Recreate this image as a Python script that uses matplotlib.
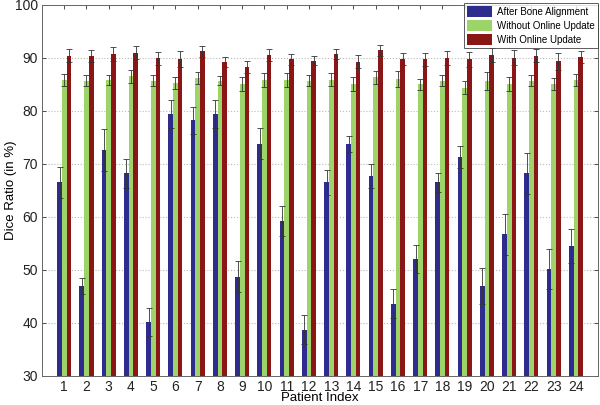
import matplotlib
matplotlib.use("Agg")
import matplotlib.pyplot as plt
import numpy as np

plt.rcParams['font.family'] = ['Liberation Sans', 'DejaVu Sans']

patients = list(range(1, 25))
series_names = ["After Bone Alignment", "Without Online Update", "With Online Update"]

after_bone = [66.5, 47.0, 72.6, 68.2, 40.2, 79.4, 78.2, 79.4, 48.7, 73.8, 59.2, 38.7,
              66.5, 73.8, 67.7, 43.6, 52.0, 66.5, 71.3, 46.9, 56.7, 68.2, 50.1, 54.5]
after_bone_err = [3.0, 1.5, 4.0, 2.7, 2.6, 2.7, 2.5, 2.7, 2.9, 2.9, 2.8, 2.7,
                  2.4, 1.5, 2.3, 2.7, 2.6, 1.8, 2.0, 3.4, 3.9, 3.8, 3.8, 3.3]
without_update = [85.8, 85.7, 85.8, 86.5, 85.7, 85.2, 86.2, 85.7, 85.0, 85.8, 85.8, 85.7,
                  85.9, 85.0, 86.3, 86.0, 85.0, 85.7, 84.4, 85.7, 85.0, 85.7, 85.1, 85.8]
without_update_err = [1.1, 1.0, 1.0, 1.2, 1.0, 1.1, 1.2, 0.8, 1.3, 1.3, 1.3, 1.0,
                      1.2, 1.3, 1.2, 1.5, 1.1, 1.1, 1.2, 1.7, 1.3, 1.1, 1.1, 1.2]
with_update = [90.4, 90.4, 90.8, 91.0, 89.9, 89.7, 91.2, 89.2, 88.3, 90.6, 89.7, 89.5,
               90.7, 89.3, 91.4, 89.8, 89.7, 90.0, 89.7, 90.6, 90.0, 90.4, 89.4, 90.2]
with_update_err = [1.2, 1.1, 1.3, 1.3, 1.2, 1.5, 1.1, 0.9, 1.1, 1.1, 1.1, 0.9,
                   1.0, 1.3, 1.1, 1.2, 1.2, 1.3, 1.4, 1.3, 1.4, 1.2, 1.6, 1.1]

colors = ['#2E2C8E', '#9CD46A', '#8A1616']

fig = plt.figure(figsize=(6, 4.05), dpi=100)
ax = fig.add_axes([0.07, 0.072, 0.927, 0.916])

x = np.array(patients, dtype=float)
w = 0.21
data = [(after_bone, after_bone_err), (without_update, without_update_err), (with_update, with_update_err)]
for i, ((vals, errs), c, name) in enumerate(zip(data, colors, series_names)):
    xi = x + (i - 1) * w
    ax.bar(xi, vals, width=w, color=c, edgecolor='none', label=name, zorder=2)
    ax.errorbar(xi, vals, yerr=errs, fmt='none', ecolor='#333333', elinewidth=0.6,
                capsize=2, capthick=0.6, zorder=3)

ax.set_xlim(0, 25)
ax.set_ylim(30, 100)
ax.set_xticks(patients)
ax.set_yticks(range(30, 101, 10))
ax.tick_params(direction='in', top=True, right=True, labelsize=10, length=3, width=0.6,
               colors='#333333', labelcolor='#222222', pad=3)
ax.yaxis.grid(True, linestyle=':', color='#bbbbbb', linewidth=0.8, zorder=0)
ax.set_axisbelow(True)
for s in ax.spines.values():
    s.set_color('#666666')
    s.set_linewidth(0.7)

ax.set_xlabel("Patient Index", fontsize=9.5, va='center')
ax.xaxis.set_label_coords(0.5, -0.061)
ax.set_ylabel("Dice Ratio (in %)", fontsize=9.5, va='center')
ax.yaxis.set_label_coords(-0.056, 0.5)

leg = ax.legend(loc='upper right', bbox_to_anchor=(1.0, 1.005), fontsize=7, frameon=True,
                fancybox=False, edgecolor='#333333', borderaxespad=0, handlelength=2.6,
                handleheight=1.3, labelspacing=0.35, borderpad=0.35, handletextpad=0.5)
leg.get_frame().set_linewidth(0.7)

fig.savefig("out.png", dpi=100)
